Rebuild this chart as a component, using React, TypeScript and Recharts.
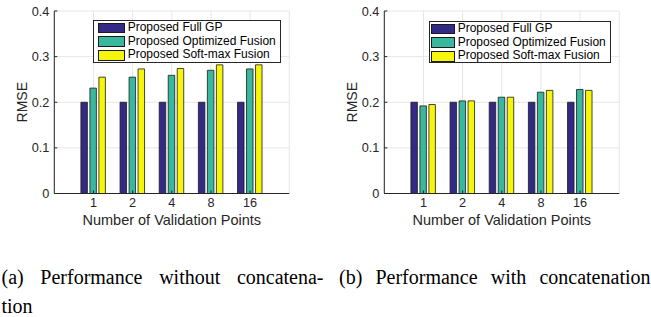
import React from 'react';
import { BarChart, Bar, XAxis, YAxis, CartesianGrid, Legend } from 'recharts';

// ---------- data ----------
const categories = ['1', '2', '4', '8', '16'];
const seriesNames = ['Proposed Full GP', 'Proposed Optimized Fusion', 'Proposed Soft-max Fusion'];
const seriesColors = ['#332a86', '#38b89c', '#f6f60c'];

const withoutFullGP = [0.2, 0.2, 0.2, 0.2, 0.2];
const withoutOptimized = [0.231, 0.255, 0.259, 0.27, 0.273];
const withoutSoftmax = [0.255, 0.273, 0.274, 0.282, 0.282];

const withFullGP = [0.2, 0.2, 0.2, 0.2, 0.2];
const withOptimized = [0.192, 0.203, 0.211, 0.222, 0.228];
const withSoftmax = [0.195, 0.203, 0.211, 0.226, 0.226];

const yTicks = [0, 0.1, 0.2, 0.3, 0.4];
const xLabel = 'Number of Validation Points';
const yLabel = 'RMSE';
const captionA = ['(a) Performance without concatena-', 'tion'];
const captionB = ['(b) Performance with concatenation'];

// ---------- styling ----------
const SANS = '"Liberation Sans", Arial, Helvetica, sans-serif';
const SERIF = '"Liberation Serif", "Times New Roman", serif';
const INK = '#262626';

const buildRows = (a: number[], b: number[], c: number[]) =>
  categories.map((cat, i) => ({ cat, full: a[i], opt: b[i], soft: c[i] }));

const emptyTick = () => <g />;

type LegendBox = { left: number; top: number; w: number; h: number; swLeft: number; swW: number };

const makeLegend = (box: LegendBox) => (props: any) => {
  const payload = props.payload || [];
  return (
    <div
      style={{
        width: box.w,
        height: box.h,
        border: `1px solid ${INK}`,
        background: '#fff',
        boxSizing: 'border-box',
        fontFamily: SANS,
        fontSize: 12,
        color: '#000',
      }}
    >
      {payload.map((p: any, i: number) => (
        <div key={i} style={{ display: 'flex', alignItems: 'center', height: 13.7, paddingLeft: box.swLeft, whiteSpace: 'nowrap' }}>
          <span
            style={{
              display: 'inline-block',
              width: box.swW,
              height: 10.7,
              background: p.color,
              border: '1px solid #1a1a1a',
              boxSizing: 'border-box',
              marginRight: 2.7,
              flex: 'none',
            }}
          />
          <span style={{ lineHeight: '13.7px' }}>{p.value}</span>
        </div>
      ))}
    </div>
  );
};

const renderYLabel = (props: any) => {
  const vb = props.viewBox || { x: 0, y: 11, width: 54.3, height: 182.5 };
  const cx = vb.x + 26.7;
  const cy = vb.y + vb.height / 2;
  return (
    <text
      x={cx}
      y={cy}
      transform={`rotate(-90, ${cx}, ${cy})`}
      textAnchor="middle"
      fill={INK}
      fontSize={14}
      fontFamily={SANS}
    >
      {yLabel}
    </text>
  );
};

type PanelProps = { left: number; data: any[]; legend: LegendBox };

const Panel = ({ left, data, legend }: PanelProps) => (
  <div style={{ position: 'absolute', left, top: 0 }}>
    <BarChart
      width={320}
      height={230}
      data={data}
      margin={{ top: 11, right: 30.7, bottom: 0, left: 0 }}
      barSize={6.5}
      barGap={2.5}
    >
      <CartesianGrid stroke="#e6e6e6" strokeWidth={1} />
      <XAxis
        dataKey="cat"
        height={36.5}
        padding={{ left: 19.6, right: 19.6 }}
        tickSize={-3}
        tickMargin={7}
        axisLine={{ stroke: INK }}
        tickLine={{ stroke: INK }}
        tick={{ fill: INK, fontSize: 12.7, fontFamily: SANS }}
        label={{ value: xLabel, position: 'insideBottom', offset: 5, fill: INK, fontSize: 14.5, fontFamily: SANS }}
      />
      <XAxis
        xAxisId="top"
        orientation="top"
        dataKey="cat"
        height={0}
        padding={{ left: 19.6, right: 19.6 }}
        tickSize={-3}
        axisLine={{ stroke: INK }}
        tickLine={{ stroke: INK }}
        tick={emptyTick}
      />
      <YAxis
        type="number"
        domain={[0, 0.4]}
        ticks={yTicks}
        width={54.3}
        tickSize={-3}
        tickMargin={8}
        axisLine={{ stroke: INK }}
        tickLine={{ stroke: INK }}
        tick={{ fill: INK, fontSize: 12.7, fontFamily: SANS }}
        label={renderYLabel}
      />
      <YAxis
        yAxisId="right"
        orientation="right"
        type="number"
        domain={[0, 0.4]}
        ticks={yTicks}
        width={0}
        tickSize={-3}
        axisLine={{ stroke: INK }}
        tickLine={{ stroke: INK }}
        tick={emptyTick}
      />
      <Legend
        layout="horizontal"
        verticalAlign="middle"
        align="center"
        content={makeLegend(legend)}
        wrapperStyle={{ left: legend.left, top: legend.top, width: legend.w, height: legend.h }}
      />
      <Bar dataKey="full" name={seriesNames[0]} fill={seriesColors[0]} stroke="#1a1a1a" strokeWidth={0.8} isAnimationActive={false} />
      <Bar dataKey="opt" name={seriesNames[1]} fill={seriesColors[1]} stroke="#1a1a1a" strokeWidth={0.8} isAnimationActive={false} />
      <Bar dataKey="soft" name={seriesNames[2]} fill={seriesColors[2]} stroke="#1a1a1a" strokeWidth={0.8} isAnimationActive={false} />
    </BarChart>
  </div>
);

const captionLine = (text: string, left: number, baseline: number, width: number, justify: boolean, key: string) => (
  <div
    key={key}
    style={{
      position: 'absolute',
      left,
      top: baseline - 16.75,
      width,
      fontFamily: SERIF,
      fontSize: 20,
      lineHeight: '20px',
      color: '#000',
      textAlign: justify ? 'justify' : 'left',
      textAlignLast: justify ? 'justify' : 'left',
      whiteSpace: 'normal',
    } as React.CSSProperties}
  >
    {text}
  </div>
);

export default function App() {
  const dataA = buildRows(withoutFullGP, withoutOptimized, withoutSoftmax);
  const dataB = buildRows(withFullGP, withOptimized, withSoftmax);
  return (
    <div style={{ position: 'absolute', left: 0, top: 0, width: 651, height: 317, background: '#fff', overflow: 'hidden' }}>
      <Panel left={0} data={dataA} legend={{ left: 93.3, top: 20, w: 187.4, h: 43.3, swLeft: 4, swW: 26.7 }} />
      <Panel left={330} data={dataB} legend={{ left: 99, top: 21, w: 181.7, h: 42, swLeft: 1, swW: 24 }} />
      {captionLine(captionA[0], 1.5, 284, 322, true, 'a0')}
      {captionLine(captionA[1], 1.5, 313, 100, false, 'a1')}
      {captionLine(captionB[0], 339, 284, 311.5, true, 'b0')}
    </div>
  );
}
